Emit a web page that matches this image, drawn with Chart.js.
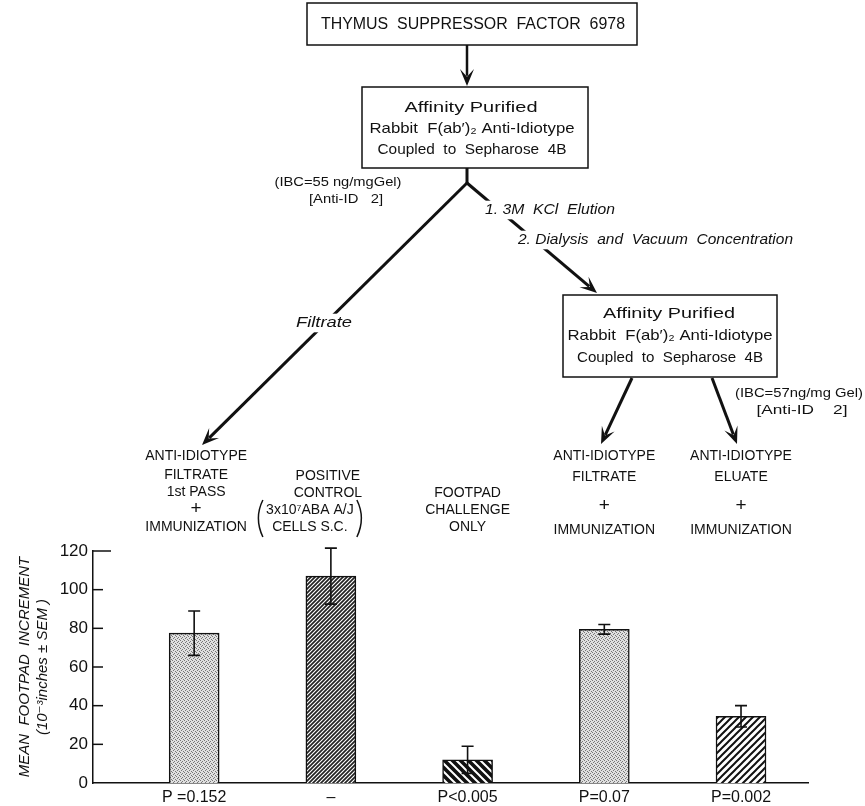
<!DOCTYPE html>
<html lang="en">
<head>
<meta charset="UTF-8">
<title>Thymus Suppressor Factor 6978 - footpad increment</title>
<script src="https://cdn.jsdelivr.net/npm/chart.js"></script>
<style>
  body { margin: 0; background: #fff; }
  #wrap { width: 865px; height: 806px; }
</style>
</head>
<body>
<div id="wrap"><canvas id="chart" width="865" height="806"></canvas></div>
<script>
// values (10^-3 inches, mean +/- SEM)
const groups = ['Anti-idiotype filtrate 1st pass', 'Positive control', 'Footpad challenge only', 'Anti-idiotype filtrate', 'Anti-idiotype eluate'];
const meanIncrement = [77.5, 107, 12, 79.5, 34.5];
const semIncrement = [11.5, 14.5, 7, 2.5, 5.5];
const pLabels = ['P =0.152', '\u2013', 'P<0.005', 'P=0.07', 'P=0.002'];
const yTicks = [0, 20, 40, 60, 80, 100, 120];

// text printed above each bar
const groupText = [
  ['ANTI-IDIOTYPE', 'FILTRATE', '1st PASS', '+', 'IMMUNIZATION'],
  ['POSITIVE', 'CONTROL', '3x10\u2077ABA A/J', 'CELLS S.C.'],
  ['FOOTPAD', 'CHALLENGE', 'ONLY'],
  ['ANTI-IDIOTYPE', 'FILTRATE', '+', 'IMMUNIZATION'],
  ['ANTI-IDIOTYPE', 'ELUATE', '+', 'IMMUNIZATION']
];
const groupTextY = [
  [456, 475, 492, 509, 527],
  [476, 493, 510, 527],
  [493, 510, 527],
  [456, 477, 506, 530],
  [456, 477, 506, 530]
];

const ink = '#111';
const FONT = '"Liberation Sans", "DejaVu Sans", sans-serif';

function makePattern(size, draw) {
  const c = document.createElement('canvas');
  c.width = c.height = size;
  const g = c.getContext('2d');
  draw(g, size);
  return g.createPattern(c, 'repeat');
}
function slash(g, s, w, col) {
  g.strokeStyle = col; g.lineWidth = w; g.beginPath();
  g.moveTo(-1, 1); g.lineTo(1, -1);
  g.moveTo(0, s); g.lineTo(s, 0);
  g.moveTo(s - 1, s + 1); g.lineTo(s + 1, s - 1);
  g.stroke();
}
function backslash(g, s, w, col) {
  g.strokeStyle = col; g.lineWidth = w; g.beginPath();
  g.moveTo(-1, s - 1); g.lineTo(1, s + 1);
  g.moveTo(0, 0); g.lineTo(s, s);
  g.moveTo(s - 1, -1); g.lineTo(s + 1, 1);
  g.stroke();
}
const stipple = makePattern(4, (g, s) => {
  g.fillStyle = '#e0e0e0'; g.fillRect(0, 0, s, s);
  g.fillStyle = '#777';
  g.fillRect(0, 0, 1, 1); g.fillRect(2, 1, 1, 1); g.fillRect(1, 2, 1, 1); g.fillRect(3, 3, 1, 1);
});
const denseHatch = makePattern(4, (g, s) => {
  g.fillStyle = '#fff'; g.fillRect(0, 0, s, s); slash(g, s, 1.7, '#222');
});
const blackStripe = makePattern(8, (g, s) => {
  g.fillStyle = '#111'; g.fillRect(0, 0, s, s); backslash(g, s, 2, '#fff');
});
const wideHatch = makePattern(7, (g, s) => {
  g.fillStyle = '#fff'; g.fillRect(0, 0, s, s); slash(g, s, 2, '#111');
});
const fills = [stipple, denseHatch, blackStripe, stipple, wideHatch];

function txt(ctx, s, x, y, size, w, opts) {
  opts = opts || {};
  ctx.save();
  ctx.font = (opts.italic ? 'italic ' : '') + size + 'px ' + FONT;
  const m = ctx.measureText(s).width;
  const sx = w ? w / m : 1;
  ctx.translate(x, y);
  ctx.scale(sx, 1);
  const left = opts.align === 'left' ? 0 : -m / 2;
  if (opts.bg) {
    ctx.fillStyle = '#fff';
    ctx.fillRect(left - 3, -size * 0.62, m + 6, size * 1.24);
  }
  ctx.fillStyle = ink;
  ctx.textAlign = 'left';
  ctx.textBaseline = 'middle';
  ctx.fillText(s, left, 0);
  ctx.restore();
}
function arrow(ctx, x1, y1, x2, y2, w) {
  const a = Math.atan2(y2 - y1, x2 - x1), c = Math.cos(a), s = Math.sin(a);
  const L = 17, H = 7;
  ctx.strokeStyle = ink; ctx.fillStyle = ink; ctx.lineWidth = w;
  ctx.beginPath(); ctx.moveTo(x1, y1); ctx.lineTo(x2 - L * 0.6 * c, y2 - L * 0.6 * s); ctx.stroke();
  ctx.beginPath();
  ctx.moveTo(x2, y2);
  ctx.lineTo(x2 - L * c - H * s, y2 - L * s + H * c);
  ctx.lineTo(x2 - L * 0.55 * c, y2 - L * 0.55 * s);
  ctx.lineTo(x2 - L * c + H * s, y2 - L * s - H * c);
  ctx.closePath(); ctx.fill();
}
function box(ctx, x, y, w, h) {
  ctx.fillStyle = '#fff'; ctx.fillRect(x, y, w, h);
  ctx.strokeStyle = ink; ctx.lineWidth = 1.5; ctx.strokeRect(x, y, w, h);
}

const bgPlugin = {
  id: 'bg',
  beforeDraw(chart) {
    const ctx = chart.ctx;
    ctx.save(); ctx.fillStyle = '#fff'; ctx.fillRect(0, 0, chart.width, chart.height); ctx.restore();
  }
};

// error bars and inward tick marks
const errorPlugin = {
  id: 'errors',
  afterDatasetsDraw(chart) {
    const ctx = chart.ctx, xs = chart.scales.x, ys = chart.scales.y;
    ctx.save();
    ctx.strokeStyle = ink; ctx.lineWidth = 1.6;
    meanIncrement.forEach((m, i) => {
      const x = xs.getPixelForValue(i);
      const t = ys.getPixelForValue(m + semIncrement[i]);
      const b = ys.getPixelForValue(m - semIncrement[i]);
      ctx.beginPath();
      ctx.moveTo(x, t); ctx.lineTo(x, b);
      ctx.moveTo(x - 6, t); ctx.lineTo(x + 6, t);
      ctx.moveTo(x - 6, b); ctx.lineTo(x + 6, b);
      ctx.stroke();
    });
    const left = chart.chartArea.left;
    ctx.lineWidth = 1.5;
    yTicks.forEach(v => {
      if (v === 0) return;
      const y = ys.getPixelForValue(v);
      ctx.beginPath(); ctx.moveTo(left, y); ctx.lineTo(left + (v === 120 ? 18 : 10), y); ctx.stroke();
    });
    ctx.restore();
  }
};

// flow diagram above the bars
const diagramPlugin = {
  id: 'diagram',
  afterDraw(chart) {
    const ctx = chart.ctx, xs = chart.scales.x;
    ctx.save();
    ctx.lineCap = 'butt';

    box(ctx, 307, 3, 330, 42);
    txt(ctx, 'THYMUS  SUPPRESSOR  FACTOR  6978', 473, 25, 16, 304);
    arrow(ctx, 467, 45, 467, 86, 2.5);

    box(ctx, 362, 87, 226, 81);
    txt(ctx, 'Affinity Purified', 471, 108, 15, 133);
    txt(ctx, 'Rabbit  F(ab\u2032)\u2082 Anti-Idiotype', 472, 129, 15, 205);
    txt(ctx, 'Coupled  to  Sepharose  4B', 472, 150, 15, 189);

    ctx.strokeStyle = ink; ctx.lineWidth = 3;
    ctx.beginPath(); ctx.moveTo(467, 168); ctx.lineTo(467, 184); ctx.stroke();
    arrow(ctx, 467, 183, 202, 445, 3);
    arrow(ctx, 467, 183, 597, 293, 3);

    txt(ctx, 'Filtrate', 324, 323, 15, 56, { italic: true, bg: true });
    txt(ctx, '1. 3M  KCl  Elution', 485, 210, 15, 130, { italic: true, bg: true, align: 'left' });
    txt(ctx, '2. Dialysis  and  Vacuum  Concentration', 518, 240, 15, 275, { italic: true, bg: true, align: 'left' });

    txt(ctx, '(IBC=55 ng/mgGel)', 338, 183, 12, 127);
    txt(ctx, '[Anti-ID   2]', 346, 200, 12, 74);

    box(ctx, 563, 295, 214, 82);
    txt(ctx, 'Affinity Purified', 669, 314, 15, 132);
    txt(ctx, 'Rabbit  F(ab\u2032)\u2082 Anti-Idiotype', 670, 336, 15, 205);
    txt(ctx, 'Coupled  to  Sepharose  4B', 670, 358, 15, 186);
    arrow(ctx, 632, 378, 601, 444, 3);
    arrow(ctx, 712, 378, 737, 444, 3);

    txt(ctx, '(IBC=57ng/mg Gel)', 799, 394, 12, 128);
    txt(ctx, '[Anti-ID    2]', 802, 411, 12, 91);

    // group captions, centred on each bar
    groupText.forEach((lines, i) => {
      let cx = xs.getPixelForValue(i);
      if (i === 0) cx += 2;
      if (i === 1) cx -= 3;
      lines.forEach((s, k) => {
        let x = cx;
        if (i === 1 && k >= 2) x = cx - 18;
        txt(ctx, s, x, groupTextY[i][k], s === '+' ? 19 : 14);
      });
    });
    // large brackets round the positive control cell dose
    ctx.strokeStyle = ink; ctx.lineWidth = 1.5;
    const pc = xs.getPixelForValue(1) - 21;
    ctx.beginPath(); ctx.moveTo(pc - 47, 500); ctx.quadraticCurveTo(pc - 56, 518, pc - 47, 537); ctx.stroke();
    ctx.beginPath(); ctx.moveTo(pc + 47, 500); ctx.quadraticCurveTo(pc + 56, 518, pc + 47, 537); ctx.stroke();

    ctx.restore();
  }
};

new Chart(document.getElementById('chart'), {
  type: 'bar',
  data: {
    datasets: [{
      label: 'Mean footpad increment',
      data: meanIncrement.map((v, i) => ({ x: i, y: v })),
      backgroundColor: fills,
      borderColor: ink,
      borderWidth: 1.5,
      borderSkipped: 'bottom',
      barThickness: 50
    }]
  },
  options: {
    responsive: false,
    animation: false,
    layout: { padding: { top: 551, left: 14, right: 57, bottom: 0 } },
    plugins: { legend: { display: false }, tooltip: { enabled: false } },
    scales: {
      x: {
        type: 'linear',
        offset: false,
        min: -0.74,
        max: 4.49,
        grid: { display: false, drawTicks: false },
        border: { display: true, color: ink, width: 1.5 },
        afterBuildTicks: s => { s.ticks = groups.map((g, i) => ({ value: i })); },
        afterFit: s => { s.height = 23; },
        ticks: {
          autoSkip: false,
          maxRotation: 0,
          padding: 5,
          color: ink,
          font: { family: FONT, size: 16 },
          callback: v => pLabels[v]
        }
      },
      y: {
        min: 0,
        max: 120,
        grid: { display: false, drawTicks: false },
        border: { display: true, color: ink, width: 1.5 },
        afterBuildTicks: s => { s.ticks = yTicks.map(v => ({ value: v })); },
        afterFit: s => { s.width = 79; },
        ticks: { padding: 5, color: ink, font: { family: FONT, size: 17 } },
        title: {
          display: true,
          text: ['MEAN  FOOTPAD  INCREMENT', '(10\u207B\u00B3inches \u00B1 SEM )'],
          color: ink,
          font: { family: FONT, size: 15, style: 'italic' },
          padding: { top: 2, bottom: 2 }
        }
      }
    }
  },
  plugins: [bgPlugin, errorPlugin, diagramPlugin]
});
</script>
</body>
</html>
